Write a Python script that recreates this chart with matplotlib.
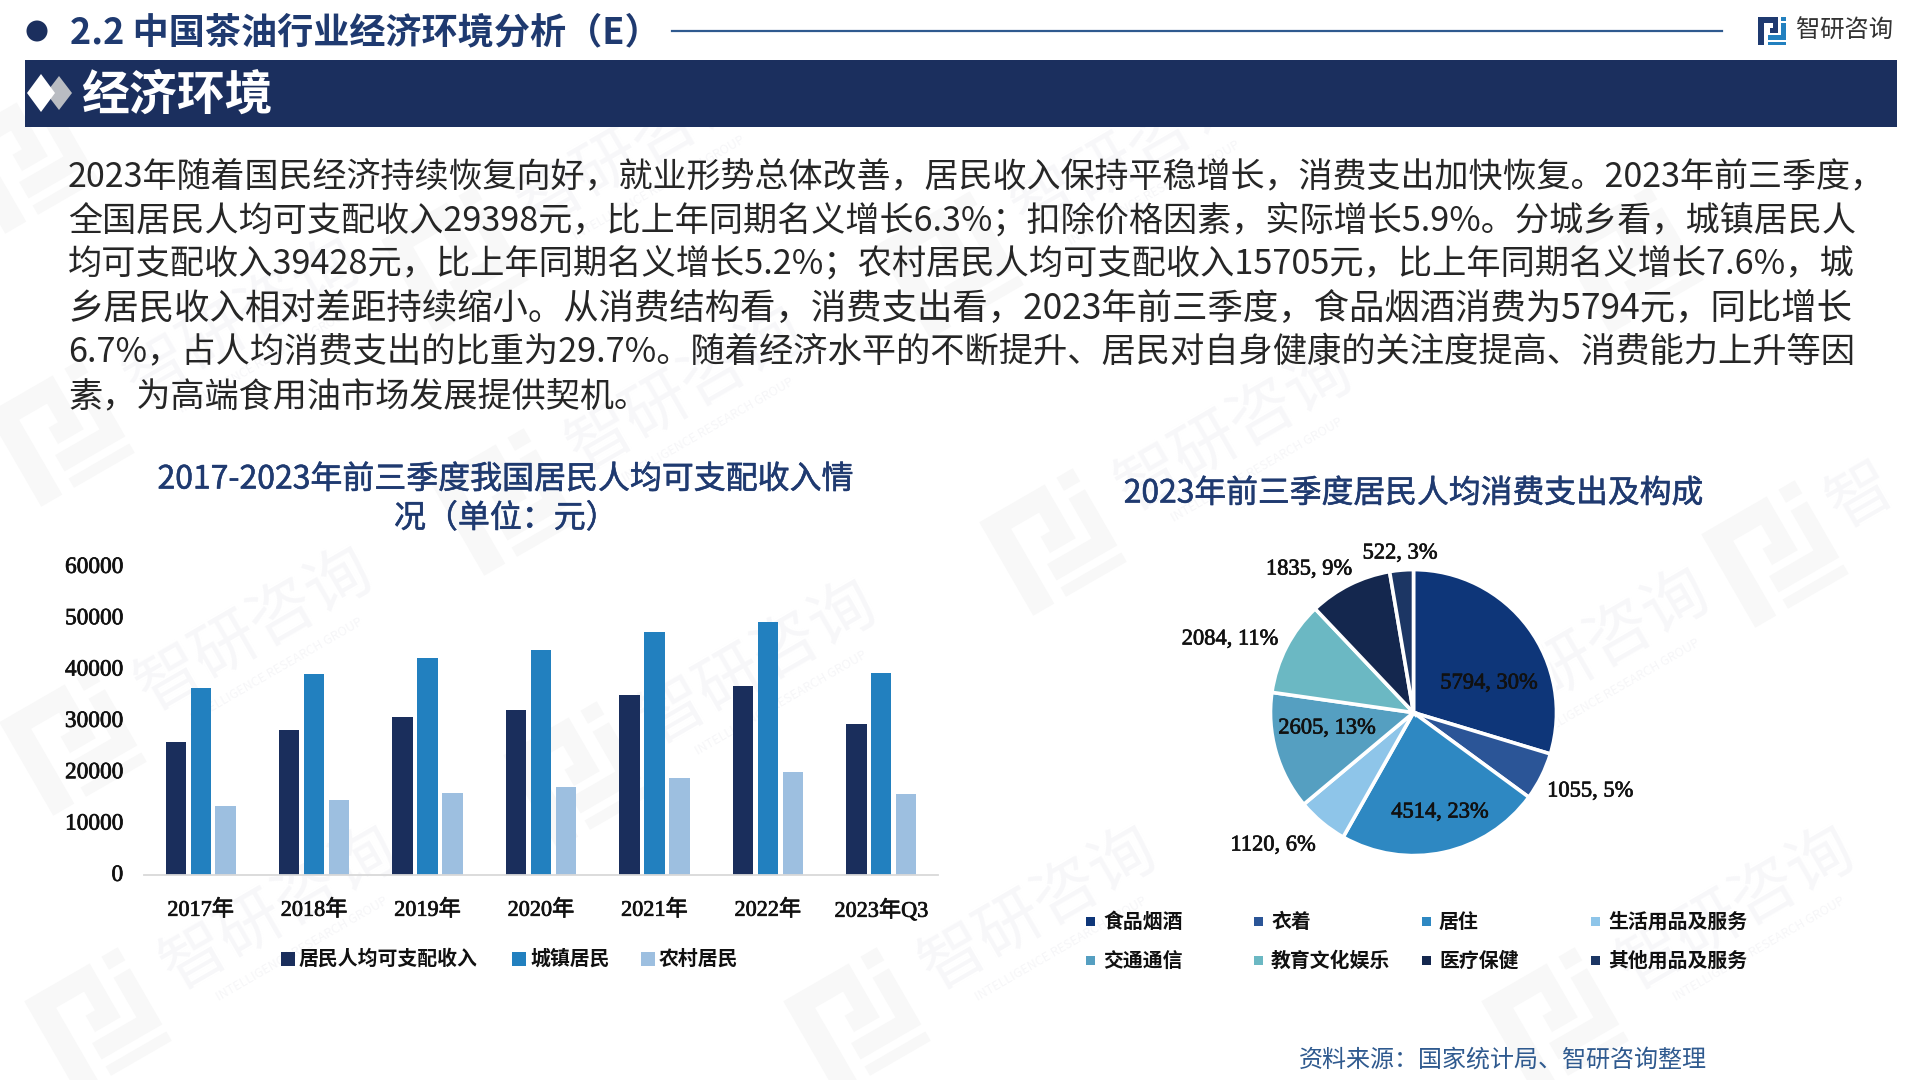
import matplotlib
matplotlib.use("Agg")
import matplotlib.pyplot as plt
import matplotlib.patheffects as pe
from matplotlib.patches import Circle, Polygon, Rectangle
from matplotlib.transforms import Affine2D, ScaledTranslation
import numpy as np

CJK = "Noto Sans CJK SC"
SERIF = ["Liberation Serif", "Noto Sans CJK SC"]
plt.rcParams["font.family"] = [CJK, "DejaVu Sans"]

NAVY = "#1b2f5e"
W, H = 1920, 1080

# ---- data ----
years = ["2017年", "2018年", "2019年", "2020年", "2021年", "2022年", "2023年Q3"]
income_all = [25974, 28228, 30733, 32189, 35128, 36883, 29398]
income_urban = [36396, 39251, 42359, 43834, 47412, 49283, 39428]
income_rural = [13432, 14617, 16021, 17131, 18931, 20133, 15705]
bar_names = ["居民人均可支配收入", "城镇居民", "农村居民"]
bar_colors = ["#1a2e5c", "#2280bf", "#9dbfe0"]
y_ticks = [0, 10000, 20000, 30000, 40000, 50000, 60000]

spend_names = ["食品烟酒", "衣着", "居住", "生活用品及服务",
               "交通通信", "教育文化娱乐", "医疗保健", "其他用品及服务"]
spend_values = [5794, 1055, 4514, 1120, 2605, 2084, 1835, 522]
spend_colors = ["#0e3679", "#2b5597", "#2e88c2", "#8ec5e9",
                "#559fc1", "#6bb8c3", "#14274e", "#1c3664"]

header = "2.2 中国茶油行业经济环境分析（E）"
banner = "经济环境"
body_lines = [
    "2023年随着国民经济持续恢复向好，就业形势总体改善，居民收入保持平稳增长，消费支出加快恢复。2023年前三季度，",
    "全国居民人均可支配收入29398元，比上年同期名义增长6.3%；扣除价格因素，实际增长5.9%。分城乡看，城镇居民人",
    "均可支配收入39428元，比上年同期名义增长5.2%；农村居民人均可支配收入15705元，比上年同期名义增长7.6%，城",
    "乡居民收入相对差距持续缩小。从消费结构看，消费支出看，2023年前三季度，食品烟酒消费为5794元，同比增长",
    "6.7%，占人均消费支出的比重为29.7%。随着经济水平的不断提升、居民对自身健康的关注度提高、消费能力上升等因",
    "素，为高端食用油市场发展提供契机。",
]
body_right = [1886, 1853, 1852, 1852, 1855, 648]
body_y = [177, 221, 265, 309, 353, 396.5]

# repeated brand stamps: logo centres, and the ones whose wording fits the canvas
stamp_logo = [(73, 742), (61, 433), (25, 160), (504, 502), (455, 260), (577, 775), (98, 1021),
              (857, 1021), (1555, 1021), (1053, 542), (1410, 763), (1775, 554), (1630, 260), (950, 265)]
stamp_word = [(73, 742), (61, 433), (504, 502), (455, 260), (577, 775), (98, 1021),
              (857, 1021), (1555, 1021), (1053, 542), (1410, 763), (950, 265)]

fig = plt.figure(figsize=(W / 100, H / 100), dpi=100, facecolor="white")


def px_axes(left, top, right, bottom, **kw):
    # axes placed by pixel box, y measured from the top of the canvas
    return fig.add_axes([left / W, 1 - bottom / H, (right - left) / W, (bottom - top) / H], **kw)


# full-canvas layer for everything that is not a chart
bg = px_axes(0, 0, W, H, zorder=0)
bg.set_xlim(0, W)
bg.set_ylim(H, 0)
bg.axis("off")


def logo(ax, x, y, s, main, accent, angle=0, zorder=1):
    # company mark: open P shape plus the blue hooks around it, s is the half size
    shapes = [
        ([(-1, -1), (0.4, -1), (0.4, 0.15), (-0.15, 0.15), (-0.15, -0.2), (0.05, -0.2), (0.05, -0.6),
          (-0.55, -0.6), (-0.55, 1), (-1, 1)], main),
        ([(0.65, -0.55), (1, -0.55), (1, 0.65), (-0.3, 0.65), (-0.3, 0.3), (0.65, 0.3)], accent),
        ([(0.65, -1), (1, -1), (1, -0.72), (0.65, -0.72)], accent),
        ([(-0.3, 0.8), (1, 0.8), (1, 1), (-0.3, 1)], accent),
    ]
    tr = Affine2D().scale(s).rotate_deg(angle).translate(x, y) + ax.transData
    for pts, c in shapes:
        ax.add_patch(Polygon(pts, closed=True, fc=c, ec="none", transform=tr, zorder=zorder))


# faint repeating brand stamps
for x, y in stamp_logo:
    logo(bg, x, y, 54, "#f8f8f8", "#f8f8f8", angle=-30)
for x, y in stamp_word:
    bg.text(x + 182, y - 112, "智研咨询", fontsize=47, color="#f7f7f9", rotation=30,
            ha="center", va="center", rotation_mode="anchor", zorder=1)
    bg.text(x + 204, y - 72, "INTELLIGENCE RESEARCH GROUP", fontsize=9, color="#f6f6f8", rotation=30,
            ha="center", va="center", rotation_mode="anchor", zorder=1)
bg.text(1861, 497, "智", fontsize=47, color="#f7f7f9", rotation=30, ha="center", va="center", zorder=1)

# header row
bg.add_patch(Circle((37, 31), 10.5, fc=NAVY, ec="none", zorder=3))
bg.text(70, 33, header, fontsize=26, weight="bold", color="#1f3a70", va="center", zorder=3)
bg.plot([672, 1722], [31, 31], color="#2f5a8f", lw=1.6, zorder=3)
logo(bg, 1772, 31, 14, "#1f3a70", "#2280bf", zorder=3)
bg.text(1796, 31, "智研咨询", fontsize=17.5, color="#333333", va="center", zorder=3)

# title banner with its double diamond
bg.add_patch(Rectangle((25, 60), 1872, 67, fc=NAVY, ec="none", zorder=2))
bg.add_patch(Polygon([(72, 93), (59, 76), (46, 93), (59, 110)], fc="#b9bcc2", ec="none", zorder=3))
bg.add_patch(Polygon([(55, 93), (41, 74), (27, 93), (41, 112)], fc="white", ec="none", zorder=3))
bg.text(81, 95.5, banner, fontsize=34.5, weight="bold", color="white", va="center", zorder=3)

# body paragraph, each line fitted to its right edge
renderer = fig.canvas.get_renderer()
for line, right, y in zip(body_lines, body_right, body_y):
    t = bg.text(68, y, line, fontsize=23.6, color="#262626", va="center", zorder=3)
    t.set_fontsize(23.6 * (right - 68) / t.get_window_extent(renderer).width)

# income bars
ax = px_axes(144, 567, 938, 875, zorder=2)
ax.patch.set_alpha(0)
pos = np.arange(len(years))
for i, (vals, col) in enumerate(zip([income_all, income_urban, income_rural], bar_colors)):
    ax.bar(pos + (i - 1) * 0.22, vals, width=0.18, color=col)
ax.set_xlim(-0.5, len(years) - 0.5)
ax.set_ylim(0, 60000)
ax.set_xticks(pos, years)
ax.set_yticks(y_ticks, [str(v) for v in y_ticks])
ax.tick_params(length=0)
ax.tick_params(axis="y", pad=15)
ax.tick_params(axis="x", pad=18)
thicken = [pe.withStroke(linewidth=0.5, foreground="#111111")]
for lab in ax.get_xticklabels():
    lab.set(family=SERIF, fontsize=16, color="#111111", path_effects=thicken)
nudge_up = ScaledTranslation(0, 1.5 / 72, fig.dpi_scale_trans)
for lab in ax.get_yticklabels():
    lab.set(family=SERIF, fontsize=16.8, color="#111111", path_effects=thicken)
    lab.set_transform(lab.get_transform() + nudge_up)
for s in ["top", "left", "right"]:
    ax.spines[s].set_visible(False)
ax.spines["bottom"].set_color("#d9d9d9")
ax.spines["bottom"].set_linewidth(1.3)

title_stroke = [pe.withStroke(linewidth=0.4, foreground="#1f3a70")]
bg.text(506, 479.5, "2017-2023年前三季度我国居民人均可支配收入情", fontsize=23, color="#1f3a70",
        ha="center", va="center", zorder=3, path_effects=title_stroke)
bg.text(506, 518.5, "况（单位：元）", fontsize=23, color="#1f3a70",
        ha="center", va="center", zorder=3, path_effects=title_stroke)

for x, name, col in zip([281, 512, 641], bar_names, bar_colors):
    bg.add_patch(Rectangle((x, 952), 14, 14, fc=col, ec="none", zorder=3))
    bg.text(x + 18, 958, name, fontsize=14.3, weight="bold", color="#111111", va="center", zorder=3)

# spending pie, clockwise from twelve o'clock
half = 143 * 1.05
pie_ax = px_axes(1413.5 - half, 712.6 - half, 1413.5 + half, 712.6 + half, zorder=2)
pie_ax.patch.set_alpha(0)
pie_ax.pie(spend_values, colors=spend_colors, startangle=90, counterclock=False, radius=1,
           wedgeprops={"edgecolor": "white", "linewidth": 2.6})
pie_ax.set_xlim(-1.05, 1.05)
pie_ax.set_ylim(-1.05, 1.05)

total = sum(spend_values)
label_xy = [(1489, 684), (1590, 792), (1440, 813), (1273, 846),
            (1327, 729), (1230, 640), (1309, 570), (1400, 554)]
for v, (x, y) in zip(spend_values, label_xy):
    fig.text(x / W, 1 - y / H, f"{v}, {round(v / total * 100)}%", family=SERIF, fontsize=16.2,
             color="#111111", ha="center", va="center", zorder=5, path_effects=thicken)

bg.text(1413, 493.5, "2023年前三季度居民人均消费支出及构成", fontsize=22.9, color="#1f3a70",
        ha="center", va="center", zorder=3, path_effects=title_stroke)

legend_x = [1086, 1254, 1422, 1591]
legend_y = [921, 960]
for i, (name, col) in enumerate(zip(spend_names, spend_colors)):
    x, y = legend_x[i % 4], legend_y[i // 4]
    bg.add_patch(Rectangle((x, y - 4.5), 9, 9, fc=col, ec="none", zorder=3))
    bg.text(x + 17, y, name, fontsize=14.3, weight="bold", color="#111111", va="center", zorder=3)

bg.text(1299, 1060, "资料来源：国家统计局、智研咨询整理", fontsize=17.3, color="#2f5a8f",
        va="center", zorder=3)

fig.savefig("out.png", dpi=100, facecolor="white")
